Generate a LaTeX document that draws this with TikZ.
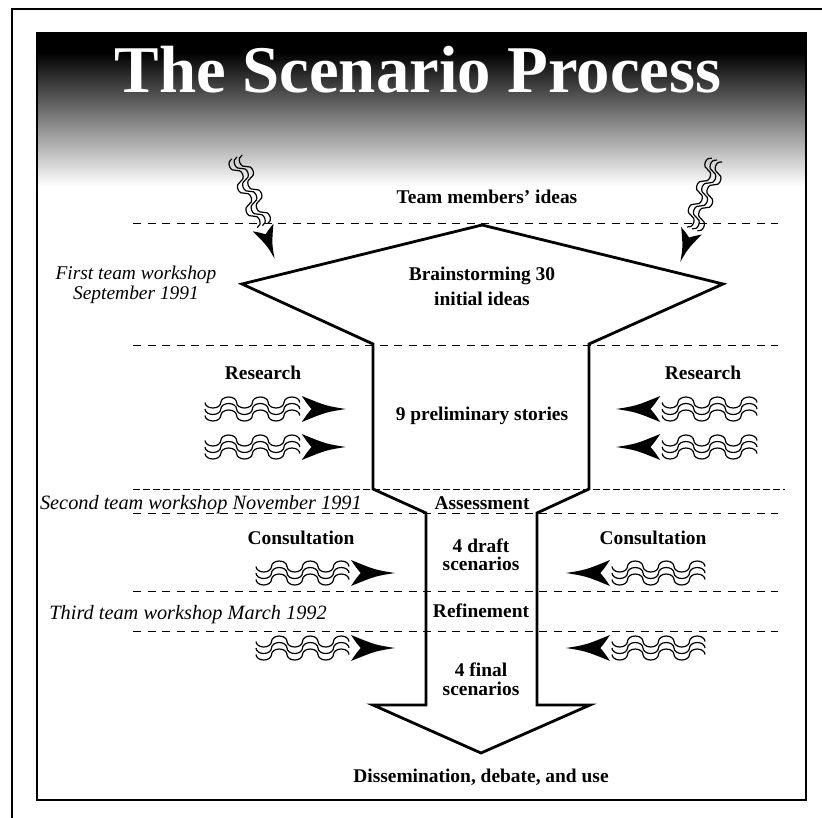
\documentclass[tikz,border=0pt]{standalone}
\usepackage{fontspec}
\setmainfont{Liberation Serif}
\newcommand\wavearrow[9]{% x, y, angle, periods, rx, ry, spacing, head length, head width
  \begin{scope}[shift={(#1,#2)}, rotate=#3]
    \pgfmathsetmacro\wL{4*#4*#5}
    \foreach \k in {-1,0,1} {
      \draw[waveline] (0,\k*#7) \foreach \j in {1,...,#4} {
        arc[start angle=180, end angle=0, x radius=#5, y radius=#6]
        arc[start angle=180, end angle=360, x radius=#5, y radius=#6]};
    }
    \fill (\wL+2+#8,0) .. controls (\wL+2+0.55*#8,-0.12*#9) .. (\wL+2,-0.5*#9)
      .. controls (\wL+2+0.12*#8,-0.2*#9) .. (\wL+2+0.22*#8,0)
      .. controls (\wL+2+0.12*#8,0.2*#9) .. (\wL+2,0.5*#9)
      .. controls (\wL+2+0.55*#8,0.12*#9) .. (\wL+2+#8,0) -- cycle;
  \end{scope}}
\begin{document}
\begin{tikzpicture}[x=1bp,y=-1bp,
  waveline/.style={line width=1.2bp},
  dashline/.style={line width=1bp, dash pattern=on 8bp off 6.5bp},
  denseline/.style={line width=1bp, dash pattern=on 7bp off 3bp},
  funnel/.style={line width=2.8bp, line join=miter},
  lbl/.style={font=\fontsize{19.5}{20}\selectfont\bfseries, inner sep=0pt, anchor=base},
  ital/.style={font=\fontsize{19.5}{20}\selectfont\itshape, inner sep=0pt, anchor=base},
  italwide/.style={font=\fontsize{20.4}{21}\selectfont\itshape, inner sep=0pt, anchor=base east},
  ttl/.style={font=\fontsize{67}{67}\selectfont\bfseries, text=white, inner sep=0pt, anchor=base}]
\useasboundingbox (0,0) rectangle (822,818);
\fill[white] (0,0) rectangle (822,818);
% outer page edge
\draw[line width=2.6bp] (12,818) -- (12,9) -- (822,9);
% title band
\fill[black] (37,33) rectangle (806,52);
\shade[top color=black, bottom color=white] (37,52) rectangle (806,186);
\draw[line width=1.5bp] (37,33) rectangle (806,800);
\node[ttl] (title) at (418,92) {The Scenario Process};
% dashed phase lines
\draw[dashline] (133,223) -- (778,223);
\draw[dashline] (133,345) -- (778,345);
\draw[denseline] (133,489) -- (785,489);
\draw[dashline] (133,513) -- (778,513);
\draw[dashline] (133,591) -- (778,591);
\draw[dashline] (133,631) -- (778,631);
% funnel outline
\draw[funnel] (482,225) -- (723,284) -- (589,344) -- (589,489) -- (537,513) -- (537,705)
  -- (590,705) -- (481,753) -- (373,705) -- (426,705) -- (426,513) -- (373,489)
  -- (373,344) -- (242,284) -- cycle;
% incoming wavy arrows
\wavearrow{237}{157}{-69.7}{3}{6.1}{4.8}{5.5}{33}{22}
\wavearrow{717}{160}{-109.8}{3}{6.1}{4.8}{5.5}{33}{22}
\wavearrow{205}{409}{0}{3}{7.9}{5.5}{6.5}{44}{26}
\wavearrow{205}{447}{0}{3}{7.9}{5.5}{6.5}{44}{26}
\wavearrow{757}{409}{180}{3}{7.9}{5.5}{6.5}{44}{26}
\wavearrow{757}{447}{180}{3}{7.9}{5.5}{6.5}{44}{26}
\wavearrow{256}{573}{0}{3}{7.75}{5.5}{6.5}{44}{26}
\wavearrow{256}{648}{0}{3}{7.75}{5.5}{6.5}{44}{26}
\wavearrow{705}{573}{180}{3}{7.75}{5.5}{6.5}{44}{26}
\wavearrow{705}{648}{180}{3}{7.75}{5.5}{6.5}{44}{26}
% labels
\node[lbl] (ideas) at (487,203) {Team members’ ideas};
\node[ital] (ws1a) at (136,279) {First team workshop};
\node[ital] (ws1b) at (136,299) {September 1991};
\node[lbl] (brainA) at (482,280) {Brainstorming 30};
\node[lbl] (brainB) at (482,305) {initial ideas};
\node[lbl] (resL) at (263,379) {Research};
\node[lbl] (resR) at (703,379) {Research};
\node[lbl] (prelim) at (482,420) {9 preliminary stories};
\node[italwide] (ws2) at (362,509) {Second team workshop November 1991};
\node[lbl] (assess) at (482,509) {Assessment};
\node[lbl] (conL) at (301,544) {Consultation};
\node[lbl] (conR) at (653,544) {Consultation};
\node[lbl] (draftA) at (481,552) {4 draft};
\node[lbl] (draftB) at (481,570) {scenarios};
\node[italwide] (ws3) at (327,619) {Third team workshop March 1992};
\node[lbl] (refine) at (481,617) {Refinement};
\node[lbl] (finalA) at (481,676) {4 final};
\node[lbl] (finalB) at (481,695) {scenarios};
\node[lbl] (diss) at (481,782) {Dissemination, debate, and use};
\end{tikzpicture}
\end{document}
